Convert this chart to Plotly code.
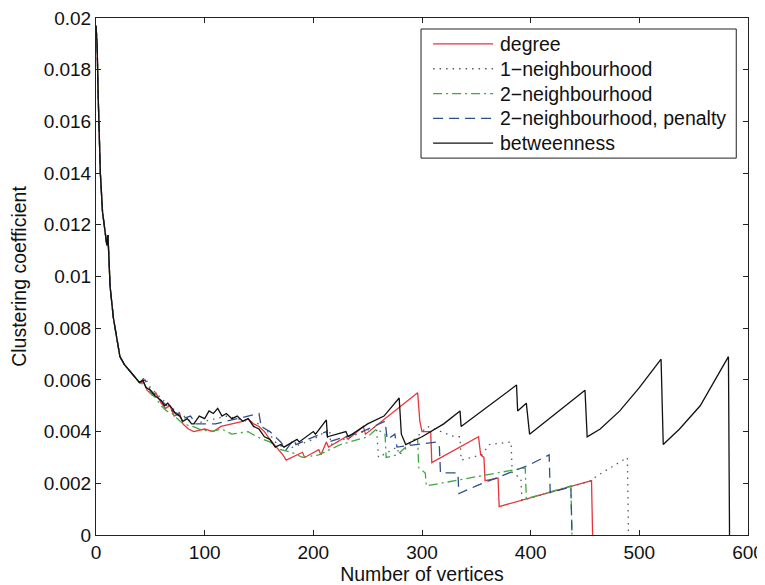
import plotly.graph_objects as go

# shared initial decay (all series start almost identically)
decay_x = [0, 1, 2, 3, 4, 6, 8, 10, 11, 13, 16, 19, 22, 26, 30, 34, 40]
decay_y = [0.0197, 0.019, 0.017, 0.0155, 0.014, 0.0125, 0.0118, 0.0112, 0.0116, 0.0096,
           0.0084, 0.0077, 0.0069, 0.0066, 0.0064, 0.0062, 0.0059]

degree_x = [44, 47, 52, 55, 60, 64, 68, 72, 77, 80, 85, 90, 100, 108, 115, 125, 135, 140, 145,
            150, 155, 160, 166, 172, 175, 190, 192, 205, 207, 212, 214, 230, 232, 246, 248,
            296, 298, 300, 308, 309, 352, 354, 357, 358, 370, 371, 456, 457]
degree_y = [0.0059, 0.0056, 0.0054, 0.0055, 0.0051, 0.0049, 0.005, 0.0046, 0.0047, 0.0043,
            0.0041, 0.0040, 0.0041, 0.0040, 0.0042, 0.0043, 0.0044, 0.0045, 0.0043, 0.0042,
            0.0040, 0.0037, 0.0034, 0.0031, 0.0029, 0.0032, 0.0030, 0.0033, 0.0031, 0.0036,
            0.0034, 0.0038, 0.0037, 0.0042, 0.0039, 0.0055, 0.0044, 0.0040, 0.0040, 0.0028,
            0.0038, 0.0031, 0.0030, 0.0021, 0.0022, 0.0011, 0.0021, 0.0]

n1_x = [45, 50, 55, 62, 70, 78, 90, 100, 110, 120, 130, 140, 150, 158, 165, 175, 200, 215, 216,
        240, 258, 260, 277, 279, 305, 330, 335, 336, 355, 362, 382, 383, 391, 392, 456, 460,
        489, 490]
n1_y = [0.0061, 0.0057, 0.0055, 0.0052, 0.0049, 0.0047, 0.0043, 0.0044, 0.0045, 0.0046,
        0.0045, 0.0044, 0.0043, 0.0040, 0.0036, 0.0033, 0.0037, 0.0041, 0.0035, 0.0039,
        0.0042, 0.0030, 0.0034, 0.0031, 0.0042, 0.0038, 0.0038, 0.0029, 0.0031, 0.0035,
        0.0036, 0.0024, 0.0022, 0.00134, 0.0021, 0.00226, 0.0030, 0.0]

n2_x = [45, 50, 55, 60, 65, 70, 75, 80, 89, 95, 105, 116, 125, 140, 148, 160, 170, 180, 190,
        205, 215, 225, 250, 258, 266, 267, 277, 293, 296, 297, 303, 304, 395, 396, 437, 438]
n2_y = [0.0058, 0.0055, 0.0053, 0.0050, 0.0048, 0.0047, 0.0045, 0.0043, 0.0042, 0.0041,
        0.0040, 0.0041, 0.0039, 0.0040, 0.0038, 0.0036, 0.0033, 0.0032, 0.0030, 0.0031,
        0.0033, 0.0035, 0.0038, 0.0041, 0.0039, 0.0030, 0.0031, 0.0037, 0.0037, 0.0026,
        0.0024, 0.0019, 0.0026, 0.0014, 0.0019, 0.0]

pen_x = [45, 50, 55, 60, 65, 70, 75, 80, 87, 92, 100, 110, 120, 130, 140, 150, 152, 160, 170,
         175, 182, 184, 212, 214, 245, 262, 266, 268, 275, 277, 314, 316, 317, 333, 334, 350,
         398, 417, 418, 437, 438]
pen_y = [0.0060, 0.0056, 0.0054, 0.0052, 0.0050, 0.0048, 0.0047, 0.0045, 0.0046, 0.0043,
         0.0043, 0.0043, 0.0044, 0.0045, 0.0046, 0.0047, 0.0042, 0.0040, 0.0036, 0.0033,
         0.0037, 0.0035, 0.0040, 0.0036, 0.0040, 0.0043, 0.0044, 0.0037, 0.0039, 0.0034,
         0.0036, 0.0034, 0.0024, 0.0024, 0.0016, 0.0019, 0.0027, 0.0031, 0.00164, 0.00186, 0.0]

betw_x = [43, 46, 50, 54, 57, 60, 63, 66, 70, 73, 77, 80, 84, 88, 90, 95, 100, 104, 108, 112,
          116, 120, 125, 130, 135, 140, 145, 150, 155, 160, 165, 170, 173, 185, 187, 200, 202,
          212, 213, 230, 232, 250, 265, 279, 281, 283, 285, 300, 320, 335, 336, 387, 388, 396,
          399, 450, 452, 464, 482, 500, 520, 522, 537, 556, 582, 583]
betw_y = [0.0060, 0.0057, 0.0056, 0.0054, 0.0053, 0.0052, 0.0050, 0.0051, 0.0049, 0.0047,
          0.0046, 0.0044, 0.0045, 0.0043, 0.0043, 0.0046, 0.0045, 0.0048, 0.0047, 0.0049,
          0.0046, 0.0047, 0.0045, 0.0046, 0.0044, 0.0045, 0.0042, 0.0041, 0.0038, 0.0037,
          0.0034, 0.0035, 0.0034, 0.0037, 0.0036, 0.0040, 0.0039, 0.00445, 0.0038, 0.0040,
          0.0038, 0.0043, 0.0046, 0.0053, 0.0039, 0.0037, 0.0035, 0.0038, 0.0043, 0.0048,
          0.0042, 0.0058, 0.0048, 0.0051, 0.0039, 0.0056, 0.0038, 0.0041, 0.0048, 0.0057,
          0.0068, 0.0035, 0.0041, 0.0050, 0.0069, 0.0]

series_names = ["degree", "1\u2212neighbourhood", "2\u2212neighbourhood",
                "2\u2212neighbourhood, penalty", "betweenness"]
x_ticks = [0, 100, 200, 300, 400, 500, 600]
y_ticks = [0, 0.002, 0.004, 0.006, 0.008, 0.01, 0.012, 0.014, 0.016, 0.018, 0.02]
y_tick_labels = ["0", "0.002", "0.004", "0.006", "0.008", "0.01", "0.012", "0.014",
                 "0.016", "0.018", "0.02"]

colors = ["#e8343c", "#4f624f", "#3fa83f", "#2e4f8c", "#111111"]
dashes = ["solid", "1.5px,5px", "9px,4px,2px,4px", "10px,6px", "solid"]
tails = [(degree_x, degree_y), (n1_x, n1_y), (n2_x, n2_y), (pen_x, pen_y), (betw_x, betw_y)]

fig = go.Figure()
for name, (tx, ty), col, dash in zip(series_names, tails, colors, dashes):
    fig.add_trace(go.Scatter(
        x=decay_x + tx, y=decay_y + ty, mode="lines", name=name, showlegend=False,
        line=dict(color=col, width=1.3, dash=dash),
    ))

# hand-built legend box (MATLAB style, compact rows)
leg_x0, leg_x1, leg_top, leg_bot = 0.4985, 0.982, 0.9787, 0.729
row_step = (leg_top - leg_bot) / 5.2
shapes = [dict(type="rect", xref="paper", yref="paper", x0=leg_x0, x1=leg_x1,
               y0=leg_bot, y1=leg_top, line=dict(color="#222", width=1),
               fillcolor="white", layer="above")]
annotations = []
for i, (name, col, dash) in enumerate(zip(series_names, colors, dashes)):
    yy = leg_top - row_step * (0.6 + i)
    shapes.append(dict(type="line", xref="paper", yref="paper", x0=0.517, x1=0.609,
                       y0=yy, y1=yy, line=dict(color=col, width=1.3, dash=dash),
                       layer="above"))
    annotations.append(dict(xref="paper", yref="paper", x=0.6165, y=yy, text=name,
                            showarrow=False, xanchor="left", yanchor="middle",
                            font=dict(size=19.5)))

font = "Liberation Sans, Arial, Helvetica, sans-serif"
# the page body adds an 8px offset, so the figure is 8px smaller than the window
fig.update_layout(
    width=757, height=577,
    margin=dict(l=88, r=17, t=10, b=50),
    paper_bgcolor="white", plot_bgcolor="white",
    font=dict(family=font, size=19, color="#111"),
    shapes=shapes, annotations=annotations,
    xaxis=dict(
        range=[0, 600], tickvals=x_ticks, ticks="inside", ticklen=5, automargin=False,
        showline=True, linecolor="#222", linewidth=1, mirror="ticks",
        showgrid=False, zeroline=False, tickcolor="#222", ticklabeloverflow="allow",
        title=dict(text="Number of vertices", font=dict(size=19.5), standoff=0),
    ),
    yaxis=dict(
        range=[0, 0.02], tickvals=y_ticks, ticktext=y_tick_labels, ticks="inside",
        ticklen=5, showline=True, linecolor="#222", linewidth=1, mirror="ticks",
        showgrid=False, zeroline=False, tickcolor="#222", automargin=False,
        ticklabeloverflow="allow",
        title=dict(text="Clustering coefficient", font=dict(size=19.5), standoff=13),
    ),
)

fig.write_html("out.html")
